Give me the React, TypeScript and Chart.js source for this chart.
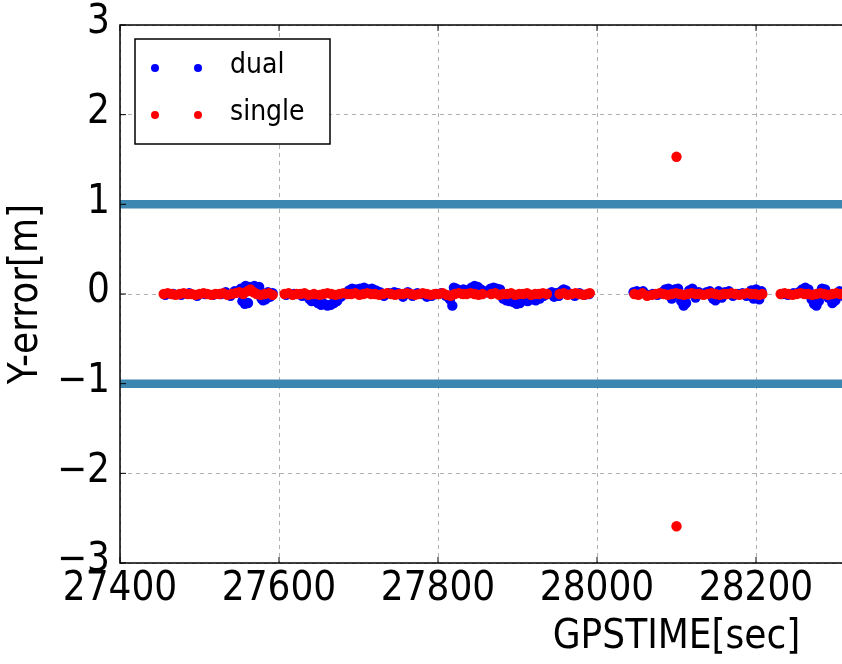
import { useEffect, useRef } from 'react';
import { Chart, registerables } from 'chart.js';

Chart.register(...registerables);

const xRange = [27400, 28800];
const yRange = [-3, 3];
const xStep = 200;
const yStep = 1;
const limitLevels = [1, -1];
const seriesNames = ['dual', 'single'];
const xTitle = 'GPSTIME[sec]';
const yTitle = 'Y-error[m]';

const singleTime = [
  27455, 27460, 27465, 27470, 27475, 27480, 27485, 27490, 27495, 27500, 27505, 27510, 27515, 27520, 27525,
  27530, 27535, 27540, 27545, 27550, 27555, 27560, 27564, 27568, 27572, 27577, 27582, 27587, 27592,
  27607, 27612, 27617, 27622, 27627, 27632, 27637, 27644, 27651, 27656, 27661, 27666, 27671, 27676, 27681,
  27686, 27691, 27696, 27701, 27706, 27711, 27716, 27721, 27726, 27731, 27736, 27741, 27746, 27751, 27756,
  27761, 27766, 27771, 27776, 27781, 27786, 27791, 27796, 27801, 27806, 27811, 27816, 27821, 27826, 27831,
  27836, 27841, 27846, 27851, 27856, 27867, 27872, 27877, 27882, 27887, 27892, 27897, 27902, 27907, 27912,
  27917, 27922, 27927, 27932, 27937, 27953, 27958, 27963, 27968, 27973, 27978, 27983, 27988, 27991,
  28047, 28052, 28057, 28063, 28069, 28074, 28079, 28084, 28089, 28094, 28099, 28104, 28109, 28114, 28119,
  28124, 28129, 28134, 28139, 28144, 28149, 28154, 28159, 28164, 28169, 28174, 28179, 28184, 28189, 28194,
  28199, 28204, 28208, 28100, 28100,
  28231, 28236, 28241, 28246, 28251, 28256, 28261, 28266, 28271, 28276, 28281, 28286, 28291, 28296, 28301,
  28306, 28311, 28316,
];
const singleErr = [
  0.0, 0.01, 0.0, -0.01, 0.0, 0.01, 0.0, 0.0, -0.01, 0.0, 0.01, 0.0, -0.01, 0.0, 0.0,
  0.01, -0.01, 0.0, 0.01, 0.02, 0.0, 0.03, 0.05, 0.02, 0.0, -0.01, 0.0, 0.01, -0.01,
  0.0, 0.01, -0.01, 0.0, 0.0, 0.01, -0.01, 0.0, -0.01, 0.0, 0.01, 0.0, -0.01, 0.0, 0.01,
  0.0, 0.0, 0.01, -0.01, 0.0, 0.01, 0.0, 0.0, -0.01, 0.0, 0.01, 0.0, -0.01, 0.0, 0.0,
  0.01, 0.0, -0.01, 0.0, 0.01, 0.0, -0.01, 0.0, 0.0, 0.01, -0.01, -0.02, 0.0, 0.01, 0.0,
  0.0, 0.01, 0.0, -0.01, 0.0, 0.0, 0.01, -0.01, 0.0, 0.0, 0.01, -0.01, 0.0, 0.0, 0.01,
  -0.01, 0.0, 0.0, 0.01, 0.0, 0.0, 0.01, -0.01, 0.0, 0.01, 0.0, -0.01, 0.0, 0.01,
  0.0, -0.01, 0.01, -0.02, -0.01, 0.0, 0.01, 0.0, -0.01, 0.0, 0.01, 0.0, -0.01, 0.0, 0.01,
  0.0, 0.0, -0.01, 0.0, 0.01, 0.0, -0.01, 0.0, 0.0, 0.01, 0.0, -0.01, 0.0, 0.01, 0.0,
  0.0, -0.01, 0.0, 1.53, -2.59,
  0.0, 0.01, 0.0, -0.01, 0.0, 0.01, 0.0, 0.0, -0.01, 0.0, 0.01, 0.0, -0.01, 0.0, 0.01,
  0.0, 0.0, -0.01,
];

const dualTime = [
  27457, 27467, 27477, 27487, 27497, 27507, 27517, 27527, 27533, 27539, 27544, 27549, 27552, 27554, 27557,
  27558, 27561, 27563, 27566, 27569, 27572, 27575, 27578, 27580, 27583, 27586, 27589, 27592,
  27609, 27619, 27629, 27638, 27641, 27645, 27649, 27653, 27657, 27661, 27665, 27669, 27673, 27678, 27683,
  27688, 27692, 27697, 27702, 27707, 27712, 27717, 27722, 27727, 27732, 27738, 27745, 27750, 27756, 27762,
  27768, 27774, 27780, 27786, 27792, 27798, 27804, 27810, 27815, 27818, 27820, 27823, 27827, 27832, 27837,
  27842, 27846, 27850, 27854, 27858, 27862, 27866, 27870, 27874, 27878, 27882, 27886, 27890, 27895, 27899,
  27903, 27908, 27913, 27918, 27923, 27928, 27933, 27938, 27943, 27946, 27949, 27952, 27955, 27958, 27961,
  27966, 27972, 27978, 27984, 27990,
  28046, 28050, 28054, 28058, 28064, 28070, 28076, 28082, 28086, 28090, 28094, 28098, 28102, 28106, 28109,
  28112, 28116, 28120, 28124, 28128, 28133, 28138, 28142, 28146, 28149, 28153, 28157, 28161, 28166, 28171,
  28177, 28183, 28188, 28194, 28197, 28200, 28204, 28207,
  28233, 28240, 28247, 28254, 28258, 28262, 28266, 28270, 28273, 28276, 28279, 28283, 28287, 28291, 28296,
  28300, 28305, 28310, 28315,
];
const dualErr = [
  -0.01, 0.0, -0.01, 0.01, -0.02, 0.0, -0.01, 0.0, 0.02, -0.02, 0.03, 0.02, 0.06, -0.08, -0.11,
  0.09, -0.1, 0.08, 0.07, 0.09, 0.06, 0.08, -0.05, -0.07, -0.06, 0.02, -0.03, 0.01,
  -0.01, 0.0, -0.02, -0.05, -0.08, -0.07, -0.1, -0.12, -0.11, -0.13, -0.12, -0.1, -0.08, -0.03, 0.0,
  0.04, 0.06, 0.05, 0.06, 0.07, 0.05, 0.06, 0.04, 0.02, -0.02, 0.01, 0.02, 0.01, -0.03, 0.02,
  -0.02, 0.01, 0.0, -0.03, -0.02, 0.0, 0.01, -0.02, -0.06, -0.13, 0.07, 0.06, 0.04, 0.05, 0.04,
  0.07, 0.09, 0.08, 0.05, 0.03, 0.02, 0.06, 0.07, 0.06, 0.05, -0.05, -0.07, -0.08, -0.09, -0.11,
  -0.1, -0.07, -0.08, -0.06, -0.07, -0.05, -0.02, 0.0, 0.02, -0.03, 0.01, -0.02, 0.03, 0.05, 0.04,
  0.0, -0.02, 0.01, -0.01, 0.0,
  0.02, 0.03, 0.02, 0.03, -0.01, 0.0, -0.01, 0.02, 0.05, 0.06, -0.05, 0.05, 0.06, -0.08, -0.13,
  -0.1, 0.04, 0.06, -0.04, 0.02, 0.0, 0.02, 0.03, -0.05, -0.07, 0.03, -0.04, 0.02, 0.03, -0.02,
  0.0, 0.01, -0.02, 0.04, -0.05, 0.05, -0.06, 0.03,
  0.0, -0.01, 0.01, 0.02, 0.05, 0.07, 0.05, -0.06, -0.11, -0.13, -0.08, 0.06, 0.05, -0.04, -0.1,
  -0.07, 0.03, -0.02, 0.01,
];

const FONT = "'DejaVu Sans Condensed', 'DejaVu Sans', sans-serif";
const BIG = 40;
const LEGEND_SIZE = 28;
const CANVAS_W = 1300;
const CANVAS_H = 664;

const toPoints = (xs: number[], ys: number[]) => xs.map((x, i) => ({ x, y: ys[i] }));
const fmt = (v: number) => String(v).replace('-', '\u2212');

const framePlugin = {
  id: 'frame',
  afterDatasetsDraw(chart: any) {
    const { ctx, chartArea: a, scales } = chart;
    ctx.save();
    ctx.strokeStyle = '#000';
    ctx.lineWidth = 1;
    const seg = (x1: number, y1: number, x2: number, y2: number) => {
      ctx.beginPath();
      ctx.moveTo(x1, y1);
      ctx.lineTo(x2, y2);
      ctx.stroke();
    };
    scales.x.ticks.forEach((t: any) => {
      const px = scales.x.getPixelForValue(t.value);
      seg(px, a.bottom, px, a.bottom - 6);
      seg(px, a.top, px, a.top + 6);
    });
    scales.y.ticks.forEach((t: any) => {
      const py = scales.y.getPixelForValue(t.value);
      seg(a.left, py, a.left + 6, py);
      seg(a.right, py, a.right - 6, py);
    });
    ctx.lineWidth = 1.5;
    ctx.strokeRect(a.left, a.top, a.right - a.left, a.bottom - a.top);
    ctx.restore();
  },
};

const legendPlugin = {
  id: 'mplLegend',
  afterDraw(chart: any) {
    const { ctx } = chart;
    const items = chart.data.datasets.filter((d: any) => seriesNames.includes(d.label));
    const bx = 135, by = 39, bw = 195, bh = 105;
    ctx.save();
    ctx.fillStyle = '#fff';
    ctx.fillRect(bx, by, bw, bh);
    ctx.strokeStyle = '#000';
    ctx.lineWidth = 1.5;
    ctx.strokeRect(bx, by, bw, bh);
    items.forEach((d: any, i: number) => {
      const cy = 68 + i * 47;
      ctx.fillStyle = d.backgroundColor;
      [155, 198].forEach((mx) => {
        ctx.beginPath();
        ctx.arc(mx, cy, 4, 0, Math.PI * 2);
        ctx.fill();
      });
      ctx.fillStyle = '#000';
      ctx.font = `${LEGEND_SIZE}px ${FONT}`;
      ctx.textBaseline = 'middle';
      ctx.textAlign = 'left';
      ctx.fillText(d.label, 230, cy - 2);
    });
    ctx.restore();
  },
};

export default function App() {
  const ref = useRef<HTMLCanvasElement | null>(null);

  useEffect(() => {
    if (!ref.current) return;
    const limitSets = limitLevels.map((lv) => ({
      label: 'limit ' + lv,
      data: [
        { x: xRange[0], y: lv },
        { x: xRange[1], y: lv },
      ],
      showLine: true,
      borderColor: '#3b87b1',
      backgroundColor: '#3b87b1',
      borderWidth: 8.5,
      pointRadius: 0,
      order: 0,
    }));
    const chart = new Chart(ref.current, {
      type: 'scatter',
      data: {
        datasets: [
          {
            label: seriesNames[0],
            data: toPoints(dualTime, dualErr),
            backgroundColor: '#0000ff',
            borderColor: '#0000ff',
            pointRadius: 5.2,
            pointBorderWidth: 0,
            order: 2,
          },
          {
            label: seriesNames[1],
            data: toPoints(singleTime, singleErr),
            backgroundColor: '#ff0000',
            borderColor: '#ff0000',
            pointRadius: 5.2,
            pointBorderWidth: 0,
            order: 1,
          },
          ...limitSets,
        ],
      },
      options: {
        responsive: false,
        devicePixelRatio: 1,
        animation: false,
        maintainAspectRatio: false,
        layout: { padding: { left: 0, top: 25, right: 67, bottom: 0 } },
        plugins: { legend: { display: false }, tooltip: { enabled: false } },
        scales: {
          x: {
            type: 'linear',
            min: xRange[0],
            max: xRange[1],
            afterFit: (s: any) => {
              s.height = 101;
              s.paddingLeft = 0;
              s.paddingRight = 0;
            },
            ticks: {
              stepSize: xStep,
              color: '#000',
              font: { family: FONT, size: BIG },
              padding: 3,
              maxRotation: 0,
              autoSkip: false,
              callback: (v: any) => fmt(Number(v)),
            },
            grid: { color: '#b0b0b0', drawTicks: false, tickBorderDash: [4, 4] },
            border: { display: false, dash: [4, 4] },
            title: {
              display: true,
              text: xTitle,
              color: '#000',
              font: { family: FONT, size: BIG },
              padding: { top: 0, bottom: 2 },
            },
          },
          y: {
            type: 'linear',
            min: yRange[0],
            max: yRange[1],
            afterFit: (s: any) => {
              s.width = 120;
              s.paddingTop = 0;
              s.paddingBottom = 0;
            },
            ticks: {
              stepSize: yStep,
              color: '#000',
              font: { family: FONT, size: BIG },
              padding: 10,
              labelOffset: -2,
              callback: (v: any) => fmt(Number(v)),
            },
            grid: { color: '#b0b0b0', drawTicks: false },
            border: { display: false, dash: [4, 4] },
            title: {
              display: true,
              text: yTitle,
              color: '#000',
              font: { family: FONT, size: BIG },
              padding: { top: 3, bottom: 0 },
            },
          },
        },
      },
      plugins: [framePlugin, legendPlugin],
    });
    return () => chart.destroy();
  }, []);

  return (
    <div
      style={{
        position: 'fixed',
        left: 0,
        top: 0,
        width: 842,
        height: 664,
        overflow: 'hidden',
        background: '#fff',
      }}
    >
      <canvas ref={ref} width={CANVAS_W} height={CANVAS_H} style={{ width: CANVAS_W, height: CANVAS_H, display: 'block' }} />
    </div>
  );
}
